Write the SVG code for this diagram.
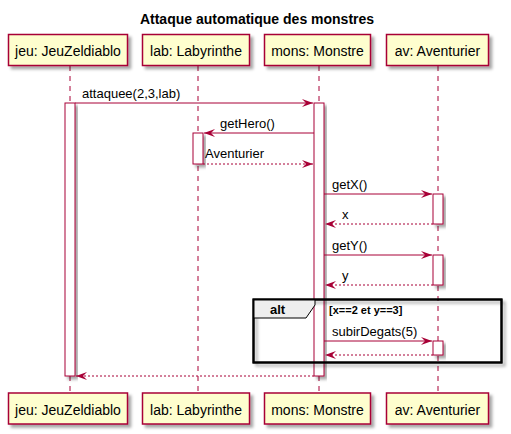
<svg xmlns="http://www.w3.org/2000/svg" width="511" height="434" viewBox="0 0 511 434">
<defs>
<filter id="sh" x="-20%" y="-20%" width="150%" height="160%">
<feDropShadow dx="3" dy="3" stdDeviation="1.5" flood-color="#000" flood-opacity="0.35"/>
</filter>
<marker id="ah" markerWidth="12" markerHeight="10" refX="11" refY="4" orient="auto" markerUnits="userSpaceOnUse">
<polygon points="0,0 11,4 0,8 4,4" fill="#A80036"/>
</marker>
</defs>
<style>
.box{fill:#FEFECE;stroke:#A80036;stroke-width:1.5;filter:url(#sh)}
.act{fill:#FFFFFF;stroke:#A80036;stroke-width:1;filter:url(#sh)}
.life{stroke:#A80036;stroke-width:1;stroke-dasharray:5,5;fill:none}
.msg{stroke:#A80036;stroke-width:1;fill:none;marker-end:url(#ah)}
.ret{stroke:#A80036;stroke-width:1;fill:none;stroke-dasharray:2,2;marker-end:url(#ah)}
.pt{font-family:"Liberation Sans",Arial,sans-serif;font-size:14px;fill:#000;text-anchor:middle}
.ml{font-family:"Liberation Sans",Arial,sans-serif;font-size:13px;fill:#000}
.title{font-family:"Liberation Sans",Arial,sans-serif;font-size:14px;font-weight:bold;fill:#000;text-anchor:middle}
.b{font-family:"Liberation Sans",Arial,sans-serif;font-weight:bold;fill:#000}
</style>
<rect width="511" height="434" fill="#FFFFFF"/>
<text class="title" x="257" y="24">Attaque automatique des monstres</text>
<g id="lifelines">
<line class="life" x1="70" y1="66" x2="70" y2="393"/>
<line class="life" x1="198" y1="66" x2="198" y2="393"/>
<line class="life" x1="319" y1="66" x2="319" y2="393"/>
<line class="life" x1="438" y1="66" x2="438" y2="393"/>
</g>
<g id="jeu">
<rect class="box" x="8.5" y="34.5" width="119" height="31"/>
<text class="pt" x="68" y="56">jeu: JeuZeldiablo</text>
<rect class="box" x="8.5" y="393" width="119" height="31"/>
<text class="pt" x="68" y="415">jeu: JeuZeldiablo</text>
<rect class="act" x="65" y="103" width="10" height="273"/>
</g>
<g id="lab">
<rect class="box" x="142.5" y="34.5" width="107" height="31"/>
<text class="pt" x="196" y="56">lab: Labyrinthe</text>
<rect class="box" x="142.5" y="393" width="107" height="31"/>
<text class="pt" x="196" y="415">lab: Labyrinthe</text>
<rect class="act" x="193" y="133" width="10" height="31"/>
</g>
<g id="mons">
<rect class="box" x="264.5" y="34.5" width="106" height="31"/>
<text class="pt" x="317.5" y="56">mons: Monstre</text>
<rect class="box" x="264.5" y="393" width="106" height="31"/>
<text class="pt" x="317.5" y="415">mons: Monstre</text>
<rect class="act" x="314" y="103" width="10" height="273"/>
</g>
<g id="av">
<rect class="box" x="386.5" y="34.5" width="102" height="31"/>
<text class="pt" x="437.5" y="56">av: Aventurier</text>
<rect class="box" x="386.5" y="393" width="102" height="31"/>
<text class="pt" x="437.5" y="415">av: Aventurier</text>
<rect class="act" x="433" y="194" width="10" height="30"/>
<rect class="act" x="433" y="255" width="10" height="30"/>
<rect class="act" x="433" y="341" width="10" height="14"/>
</g>
<g id="alt">
<rect x="253.5" y="299.5" width="248" height="63" fill="none" stroke="#000" stroke-width="2" filter="url(#sh)"/>
<polygon points="253.5,299.5 315,299.5 315,305 306,318 253.5,318" fill="#EEEEEE" stroke="#000" stroke-width="1"/>
<rect x="253.5" y="299.5" width="248" height="63" fill="none" stroke="#000" stroke-width="2"/>
<text class="b" x="270" y="314" font-size="13">alt</text>
<text class="b" x="329" y="314" font-size="11">[x==2 et y==3]</text>
</g>
<g id="connectors">
<line class="msg" x1="75" y1="103" x2="313" y2="103"/>
<text class="ml" x="82" y="98">attaquee(2,3,lab)</text>
<line class="msg" x1="314" y1="133" x2="204" y2="133"/>
<text class="ml" x="220" y="128">getHero()</text>
<line class="ret" x1="203" y1="164" x2="313" y2="164"/>
<text class="ml" x="205" y="158">Aventurier</text>
<line class="msg" x1="324" y1="194" x2="432" y2="194"/>
<text class="ml" x="332" y="189">getX()</text>
<line class="ret" x1="433" y1="224" x2="325" y2="224"/>
<text class="ml" x="342" y="219">x</text>
<line class="msg" x1="324" y1="255" x2="432" y2="255"/>
<text class="ml" x="332" y="250">getY()</text>
<line class="ret" x1="433" y1="285" x2="325" y2="285"/>
<text class="ml" x="342" y="280">y</text>
<line class="msg" x1="324" y1="341" x2="432" y2="341"/>
<text class="ml" x="332" y="336">subirDegats(5)</text>
<line class="ret" x1="433" y1="355" x2="325" y2="355"/>
<line class="ret" x1="314" y1="376" x2="76" y2="376"/>
</g>
</svg>
